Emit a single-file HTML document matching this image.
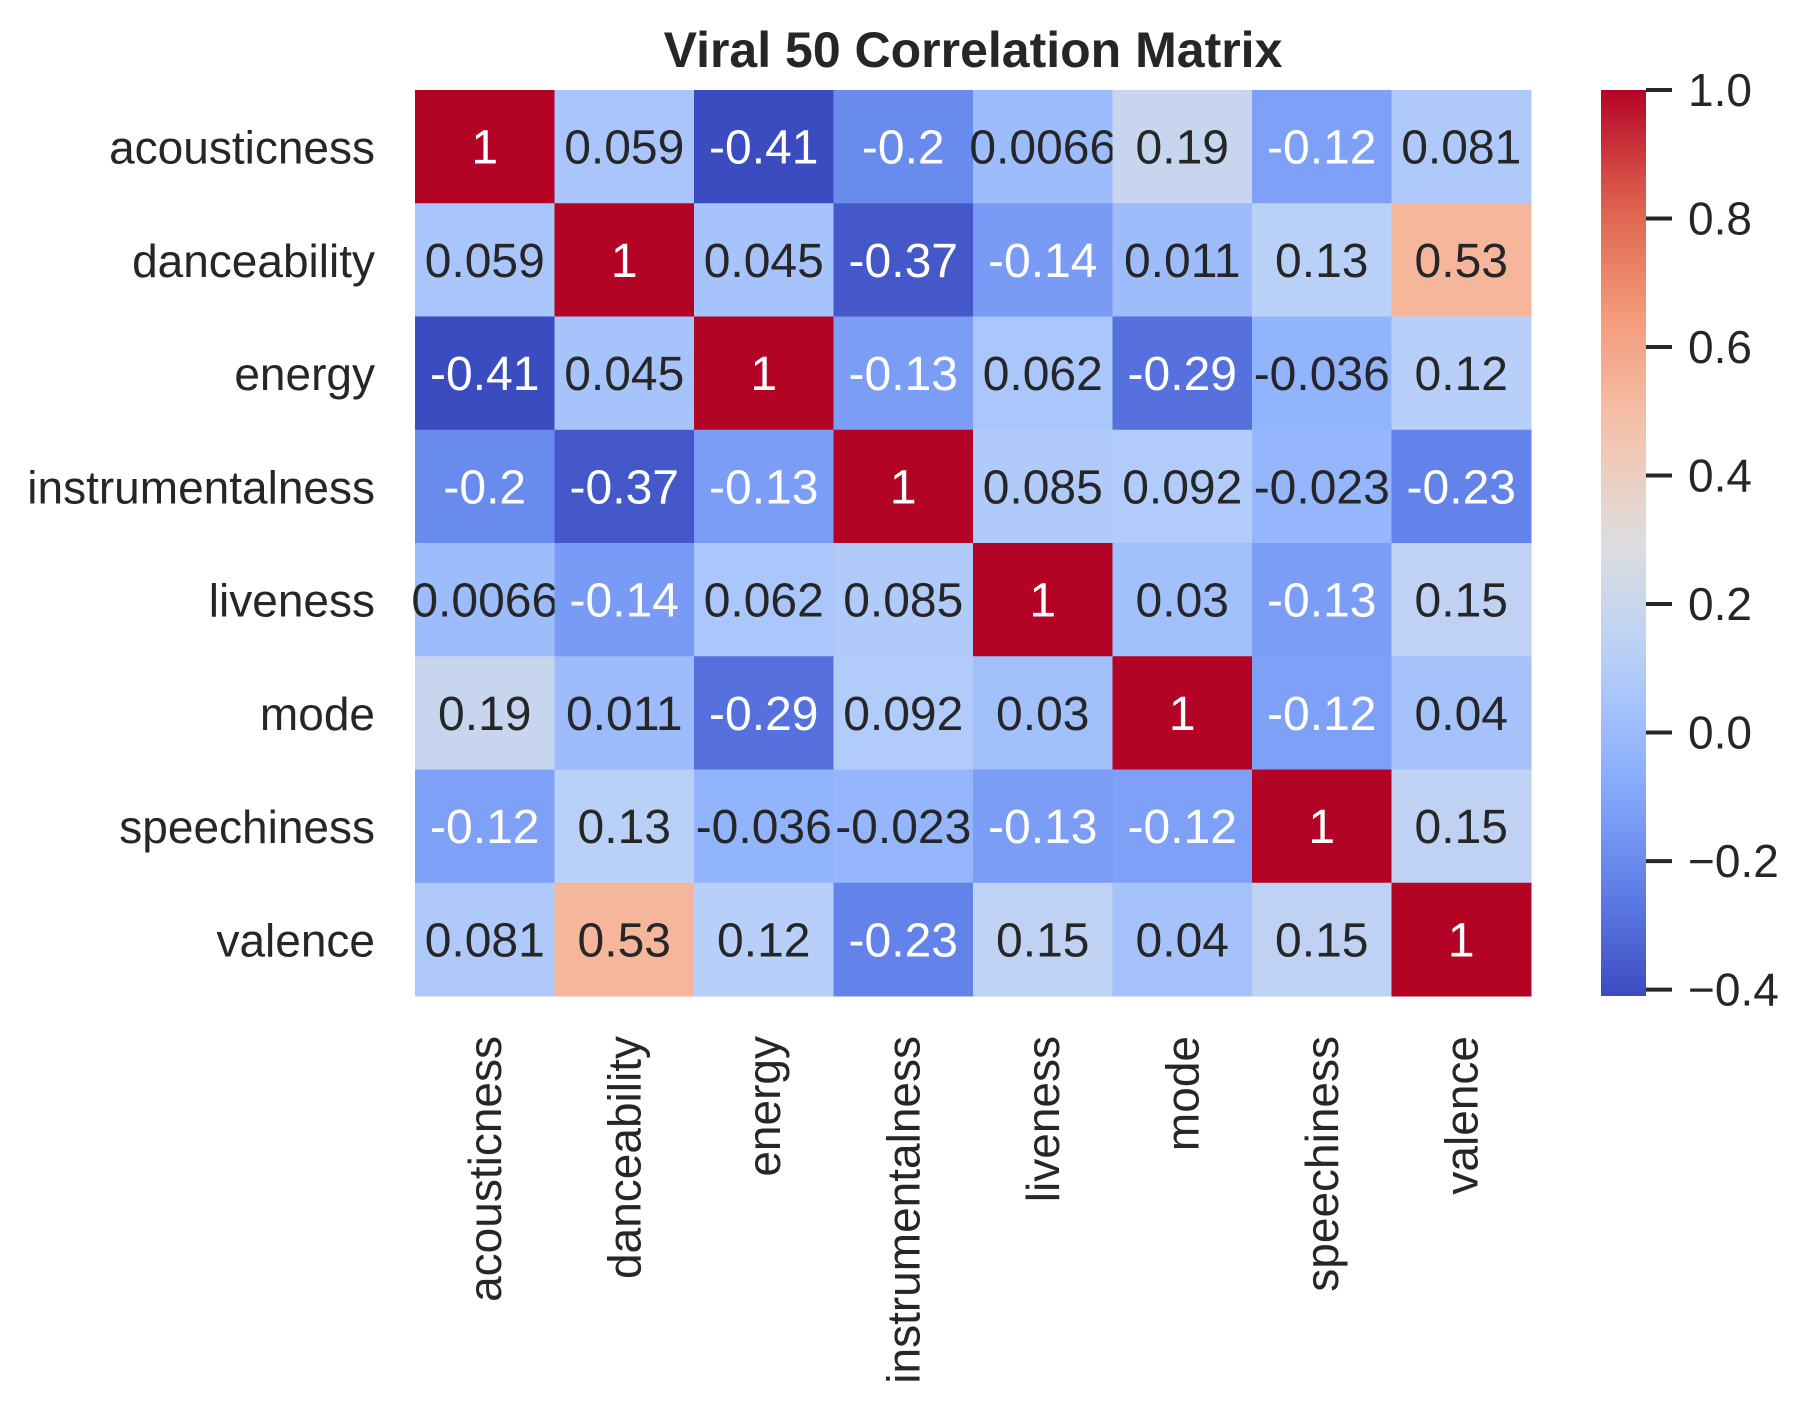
<!DOCTYPE html>
<html><head><meta charset="utf-8"><style>
body{margin:0;background:#fff}
svg{display:block;font-family:"Liberation Sans",sans-serif}
</style></head><body>
<svg id="c" width="1806" height="1411"></svg>
<script>
const labels=["acousticness","danceability","energy","instrumentalness","liveness","mode","speechiness","valence"];
const row0=[1,0.059,-0.41,-0.2,0.0066,0.19,-0.12,0.081];
const row1=[0.059,1,0.045,-0.37,-0.14,0.011,0.13,0.53];
const row2=[-0.41,0.045,1,-0.13,0.062,-0.29,-0.036,0.12];
const row3=[-0.2,-0.37,-0.13,1,0.085,0.092,-0.023,-0.23];
const row4=[0.0066,-0.14,0.062,0.085,1,0.03,-0.13,0.15];
const row5=[0.19,0.011,-0.29,0.092,0.03,1,-0.12,0.04];
const row6=[-0.12,0.13,-0.036,-0.023,-0.13,-0.12,1,0.15];
const row7=[0.081,0.53,0.12,-0.23,0.15,0.04,0.15,1];
const matrix=[row0,row1,row2,row3,row4,row5,row6,row7];
const cbTicks=[-0.4,-0.2,0.0,0.2,0.4,0.6,0.8,1.0];
const vmin=-0.41,vmax=1.0;
const L=415,T=90,W=1116,H=906;
const NS="http://www.w3.org/2000/svg";
const svg=document.getElementById('c');
const stops=[[59,76,192],[98,130,234],[141,176,254],[184,208,249],[221,221,221],[245,196,173],[244,154,123],[222,96,77],[180,4,38]];
function cmap(v){let t=(v-vmin)/(vmax-vmin);t=Math.max(0,Math.min(1,t));const p=t*8,i=Math.min(7,Math.floor(p)),f=p-i;const a=stops[i],b=stops[i+1];
return [0,1,2].map(k=>Math.round(a[k]+(b[k]-a[k])*f));}
function relLum(c){const l=c.map(x=>{x/=255;return x<=0.03928?x/12.92:Math.pow((x+0.055)/1.055,2.4);});return 0.2126*l[0]+0.7152*l[1]+0.0722*l[2];}
function mk(tag,attrs,parent){const e=document.createElementNS(NS,tag);for(const k in attrs)e.setAttribute(k,attrs[k]);(parent||svg).appendChild(e);return e;}
const n=labels.length,cw=W/n,ch=H/n;
const xs=i=>L+i*cw, ys=i=>T+i*ch;
matrix.forEach((row,r)=>row.forEach((v,c)=>{
 const col=cmap(v);
 const rect=mk('rect',{x:xs(c),y:ys(r),width:cw+0.5,height:ch+0.5,fill:`rgb(${col})`});
 
 
 const t=mk('text',{x:xs(c)+cw/2,y:ys(r)+ch/2+17,'text-anchor':'middle','font-size':48,fill:relLum(col)>0.408?'#262626':'#ffffff'});
 t.textContent=String(v);
 
 
}));
labels.forEach((lab,i)=>{
 const t=mk('text',{x:375,y:ys(i)+ch/2+17,'text-anchor':'end','font-size':46,fill:'#262626'});
 t.textContent=lab;
 
 
 const x=xs(i)+cw/2+16;
 const u=mk('text',{x:x,y:1036,'text-anchor':'end','font-size':46,fill:'#262626',transform:`rotate(-90 ${x} 1036)`});
 u.textContent=lab;
 
 
});
const title=mk('text',{x:L+W/2,y:67,'text-anchor':'middle','font-size':50,'font-weight':'bold',fill:'#262626'});
title.textContent='Viral 50 Correlation Matrix';


const cbX=1601,cbW=45;
const cy=v=>T+H-(v-vmin)/(vmax-vmin)*H;
const defs=mk('defs',{});
const g=mk('linearGradient',{id:'cg',x1:0,y1:1,x2:0,y2:0},defs);
for(let i=0;i<=20;i++){const v=vmin+(vmax-vmin)*i/20;mk('stop',{offset:i/20,'stop-color':`rgb(${cmap(v)})`},g);}
const cb=mk('rect',{x:cbX,y:T,width:cbW,height:H,fill:'url(#cg)'});


cbTicks.forEach(v=>{
 mk('line',{x1:cbX+cbW,x2:cbX+cbW+26,y1:cy(v),y2:cy(v),stroke:'#262626','stroke-width':4});
 const t=mk('text',{x:1688,y:cy(v)+16,'font-size':46,fill:'#262626'});
 t.textContent=(v<0?'\u2212':'')+Math.abs(v).toFixed(1);
 
 
});
</script>
</body></html>
